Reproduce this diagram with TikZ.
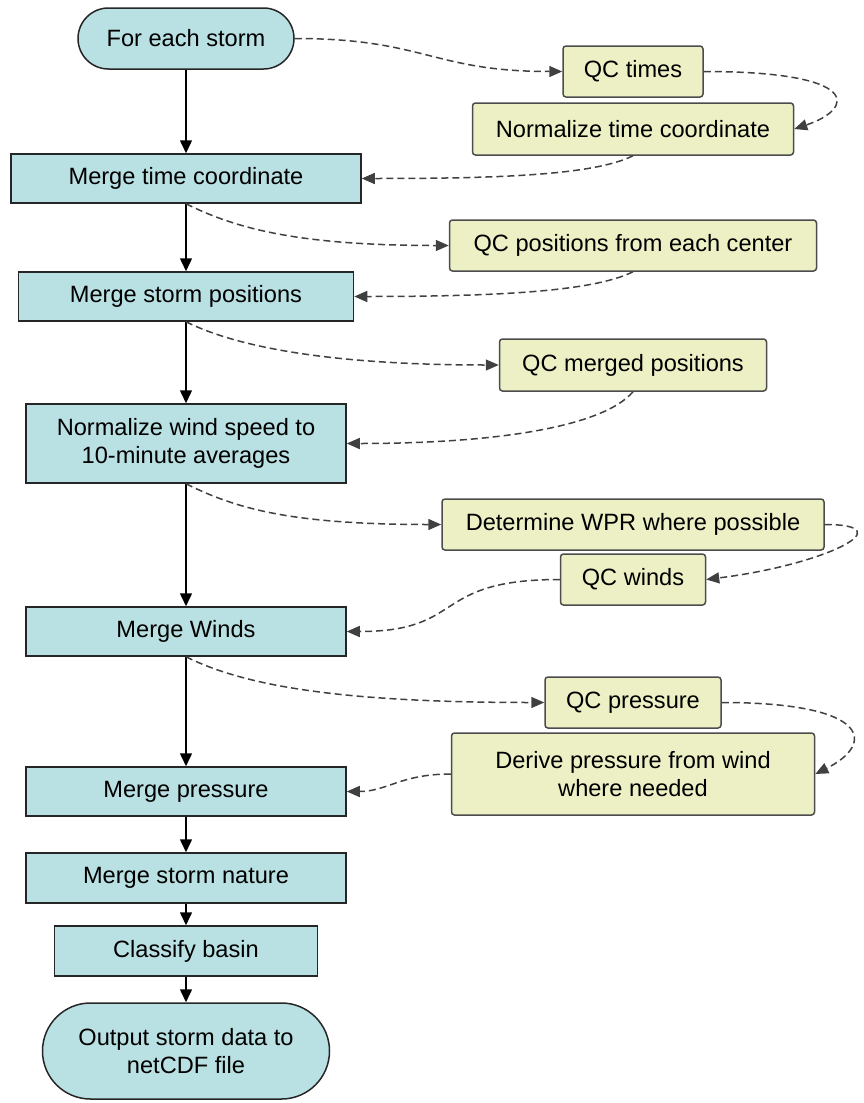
\documentclass[tikz,border=0pt]{standalone}
\usepackage{fontspec}
\setmainfont{Liberation Sans}
\usetikzlibrary{arrows.meta}
\definecolor{procblue}{RGB}{185,224,226}
\definecolor{qcyellow}{RGB}{237,240,197}
\tikzset{
  term_/.style = {draw=black!85, fill=procblue, line width=0.75pt, align=center, inner sep=0pt},
  proc_/.style = {draw=black!85, fill=procblue, line width=0.75pt, align=center, inner sep=0pt, minimum height=24.5pt},
  qc_/.style   = {draw=black!70, fill=qcyellow, line width=0.75pt, rounded corners=1.5pt, align=center, inner sep=0pt, minimum height=25.5pt}
}

\begin{document}
\begin{tikzpicture}
  [
    x                 = 0.5pt,
    y                 = -0.5pt,
    flow_/.style      = {draw, line width=0.75pt, -{Triangle[length=6.5pt,width=6pt]}},
    side_/.style      = {draw=black!75, line width=0.75pt, dash pattern=on 3.5pt off 2pt, -{Triangle[length=6.5pt,width=5.5pt]}},
    every node/.style = {font=\fontsize{11.8}{14}\selectfont}
  ]
  \useasboundingbox (0,0) rectangle (863,1103);

  % main column
  \node [term_, minimum width=108pt, minimum height=30.5pt, rounded corners=15.25pt] (storm) at (186,38.5) {For each storm};
  \node [proc_, minimum width=175pt] (mtime) at (186,178.5) {Merge time coordinate};
  \node [proc_, minimum width=167.5pt] (mpos) at (186,296.5) {Merge storm positions};
  \node [proc_, minimum width=160pt, minimum height=39.5pt] (nwind) at (186,443.5) {Normalize wind speed to\\10-minute averages};
  \node [proc_, minimum width=160pt] (mwinds) at (186,631.5) {Merge Winds};
  \node [proc_, minimum width=160pt] (mpres) at (186,791.5) {Merge pressure};
  \node [proc_, minimum width=160pt, minimum height=25pt] (mnature) at (186,878) {Merge storm nature};
  \node [proc_, minimum width=131.5pt, minimum height=25pt] (basin) at (186,951) {Classify basin};
  \node [term_, minimum width=143.5pt, minimum height=48pt, rounded corners=24pt] (output) at (186,1051) {Output storm data to\\netCDF file};

  % side checks
  \node [qc_, minimum width=70pt] (qctimes) at (633,71.5) {QC times};
  \node [qc_, minimum width=160.5pt, minimum height=26pt] (normtime) at (633,129) {Normalize time coordinate};
  \node [qc_, minimum width=183.5pt] (qcpos) at (633,245.5) {QC positions from each center};
  \node [qc_, minimum width=133.5pt, minimum height=26pt] (qcmerged) at (633,365) {QC merged positions};
  \node [qc_, minimum width=191pt] (wpr) at (633,524.5) {Determine WPR where possible};
  \node [qc_, minimum width=72.5pt] (qcwinds) at (633,579.5) {QC winds};
  \node [qc_, minimum width=88pt] (qcpres) at (633,702.5) {QC pressure};
  \node [qc_, minimum width=181.5pt, minimum height=41pt] (derive) at (633,774) {Derive pressure from wind\\where needed};

  \draw [flow_] (storm) -- (mtime);
  \draw [flow_] (mtime) -- (mpos);
  \draw [flow_] (mpos) -- (nwind);
  \draw [flow_] (nwind) -- (mwinds);
  \draw [flow_] (mwinds) -- (mpres);
  \draw [flow_] (mpres) -- (mnature);
  \draw [flow_] (mnature) -- (basin);
  \draw [flow_] (basin) -- (output);

  % dashed side paths
  \draw [side_] (storm.east) .. controls +(130,0) and +(-130,0) .. (qctimes.west);
  \draw [side_] (qctimes.east) .. controls +(160,0) and +(60,-20) .. (normtime.east);
  \draw [side_] (normtime.south) .. controls +(-40,20) and +(130,0) .. (mtime.east);
  \draw [side_] (mtime.south) .. controls +(50,25) and +(-150,0) .. (qcpos.west);
  \draw [side_] (qcpos.south) .. controls +(-40,20) and +(140,0) .. (mpos.east);
  \draw [side_] (mpos.south) .. controls +(50,25) and +(-170,0) .. (qcmerged.west);
  \draw [side_] (qcmerged.south) .. controls +(-30,35) and +(150,0) .. (nwind.east);
  \draw [side_] (nwind.south) .. controls +(50,25) and +(-150,0) .. (wpr.west);
  \draw [side_] (wpr.east) .. controls +(80,0) and +(120,-15) .. (qcwinds.east);
  \draw [side_] (qcwinds.west) .. controls +(-130,0) and +(120,0) .. (mwinds.east);
  \draw [side_] (mwinds.south) .. controls +(60,30) and +(-200,0) .. (qcpres.west);
  \draw [side_] (qcpres.east) .. controls +(150,0) and +(60,-30) .. (derive.east);
  \draw [side_] (derive.west) .. controls +(-50,0) and +(40,0) .. (mpres.east);
\end{tikzpicture}
\end{document}
